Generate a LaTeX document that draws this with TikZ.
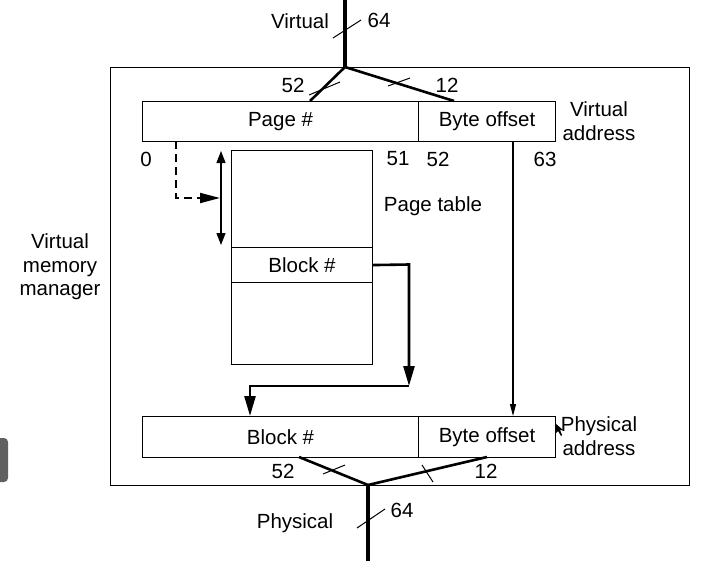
\documentclass[tikz,border=0pt]{standalone}
\usepackage{fontspec}
\setmainfont{Liberation Sans}
\usetikzlibrary{arrows.meta}
\begin{document}
\begin{tikzpicture}[x=1pt,y=-1pt,
  lbl/.style={font=\fontsize{20.5}{23.5}\selectfont, inner sep=0pt},
  fld/.style={draw, line width=1.1pt, anchor=north west, inner sep=0pt, font=\fontsize{20.5}{23.5}\selectfont},
  thin/.style={line width=1.1pt},
  bus/.style={line width=2.6pt},
  trunk/.style={line width=4pt},
  tick/.style={line width=1pt},
  arr/.style={-{Triangle[length=20pt,width=11pt]}},
  sarr/.style={-{Triangle[length=12pt,width=6pt]}},
  darr/.style={{Triangle[length=12pt,width=9pt]}-{Triangle[length=12pt,width=9pt]}}
]
\useasboundingbox (0,0) rectangle (725,560);
\fill[white] (0,0) rectangle (725,560);
% gray screen tab
\fill[gray!75!black, rounded corners=4pt] (-6,438) rectangle (8,482);

% outer box
\node[draw, thin, anchor=north west, minimum width=579pt, minimum height=418pt, inner sep=0pt] (vmm) at (110,67) {};

% virtual address fields
\node[fld, minimum width=276pt, minimum height=40pt] (vpage) at (142,101) {Page \#};
\node[fld, minimum width=137pt, minimum height=40pt] (voff) at (418,101) {Byte offset};
% physical address fields
\node[fld, minimum width=276pt, minimum height=41pt] (pblock) at (142,416) {Block \#};
\node[fld, minimum width=137pt, minimum height=41pt] (poff) at (418,416) {Byte offset};

% page table
\node[fld, minimum width=141pt, minimum height=97pt] (ptop) at (231,150) {};
\node[fld, minimum width=141pt, minimum height=35pt] (pblk) at (231,247) {Block \#};
\node[fld, minimum width=141pt, minimum height=82pt] (pbot) at (231,282) {};

% labels
\node[lbl] (lvirt) at (300,21) {Virtual};
\node[lbl] (l64a) at (379,20) {64};
\node[lbl] (l52a) at (293,85) {52};
\node[lbl] (l12a) at (447,85) {12};
\node[lbl, align=center] (lva) at (599,121) {Virtual\\address};
\node[lbl] (l0) at (146,159) {0};
\node[lbl] (l51) at (398,159) {51};
\node[lbl] (l52b) at (438,159) {52};
\node[lbl] (l63) at (545,159) {63};
\node[lbl] (lpt) at (433,206) {Page table};
\node[lbl, align=center] (lvmm) at (60,267) {Virtual\\memory\\manager};
\node[lbl, align=center] (lpa) at (599,436) {Physical\\address};
\node[lbl] (l52c) at (283,471) {52};
\node[lbl] (l12c) at (486,471) {12};
\node[lbl] (lphys) at (295,523) {Physical};
\node[lbl] (l64b) at (402,510) {64};

% top bus
\coordinate (vin) at (345,0);
\coordinate (vsplit) at (345,67);
\coordinate (vl) at (310,101);
\coordinate (vr) at (454,101);
\draw[trunk] (vin) -- (vsplit);
\draw[bus] (vsplit) -- (vl);
\draw[bus] (vsplit) -- (vr);
\draw[tick] (333,38) -- (361,20);
\draw[tick] (309,95) -- (340,82);
\draw[tick] (388,86) -- (410,78);

% bottom bus
\coordinate (pl) at (299,457);
\coordinate (pr) at (487,457);
\coordinate (pjoin) at (368,485);
\coordinate (pout) at (368,562);
\draw[bus] (pl) -- (pjoin);
\draw[bus] (pr) -- (pjoin);
\draw[trunk] (pjoin) -- (pout);
\draw[tick] (323,474) -- (345,465);
\draw[tick] (422,465) -- (433,482);
\draw[tick] (357,528) -- (385,509);

% dashed index arrow
\coordinate (dstart) at (176,141);
\coordinate (dcorner) at (176,198);
\coordinate (dend) at (220,198);
\draw[line width=1.8pt, dashed, dash pattern=on 8pt off 5pt] (dstart) -- (dcorner) -- (200,198);
\draw[line width=1.8pt, -{Triangle[length=20pt,width=10pt]}] (198,198) -- (dend);

% double arrow beside page table
\coordinate (da1) at (221,151);
\coordinate (da2) at (221,245);
\draw[line width=1.3pt, darr] (da1) -- (da2);

% block # path
\coordinate (bc1) at (409,264.5);
\coordinate (bc2) at (409,386);
\coordinate (bc3) at (250,386);
\draw[bus, arr] (pblk.east) -- (bc1) -- (bc2);
\draw[bus, arr] (bc2) -- (bc3) -- (bc3 |- pblock.north);

% byte offset path
\draw[thin, sarr] (513,141) -- (513,416);

% cursor
\fill[black] (555,423) -- (555,434) -- (558,431) -- (561,436) -- (562,435) -- (560,430) -- (563,430) -- cycle;
\end{tikzpicture}
\end{document}
